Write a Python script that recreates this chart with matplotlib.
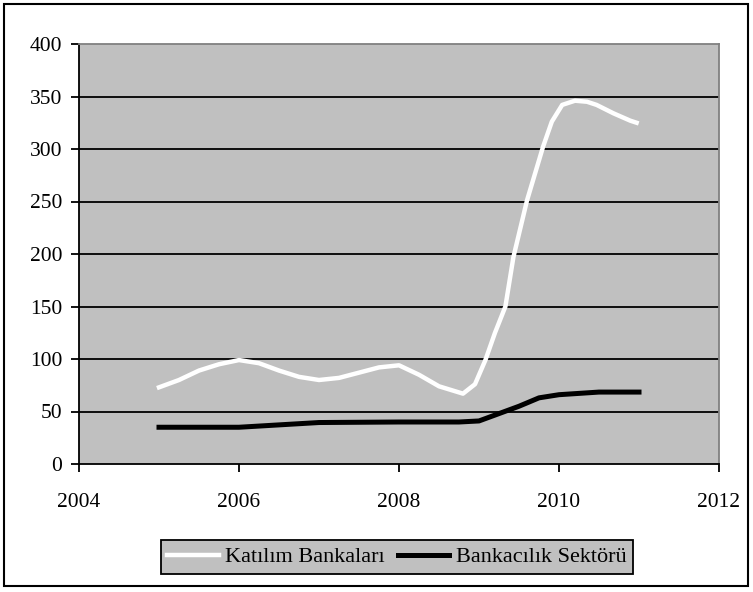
import numpy as np
import matplotlib
matplotlib.use('Agg')
import matplotlib.pyplot as plt
from matplotlib.patches import Rectangle

# values (quarterly-ish points)
katilim_x = [2005.0, 2005.25, 2005.5, 2005.75, 2006.0, 2006.25, 2006.5, 2006.75,
             2007.0, 2007.25, 2007.5, 2007.75, 2008.0, 2008.25, 2008.5, 2008.8,
             2008.95, 2009.08, 2009.2, 2009.33, 2009.43, 2009.6, 2009.8, 2009.91,
             2010.04, 2010.2, 2010.35, 2010.47, 2010.68, 2010.89, 2010.97]
katilim_y = [73, 80, 89, 95, 99, 96, 89, 83,
             80, 82, 87, 92, 94, 85, 74, 67,
             76, 99, 125, 150, 197, 251, 302, 326,
             342, 346, 345, 342, 334, 327, 325]

sektor_x = [2005.0, 2006.0, 2007.0, 2008.0, 2008.75, 2009.0, 2009.25, 2009.5,
            2009.75, 2010.0, 2010.5, 2011.0]
sektor_y = [35, 35, 39.5, 40, 40, 41, 48, 55, 63, 66, 68.5, 68.5]

labels = ['Katılım Bankaları', 'Bankacılık Sektörü']

plt.rcParams['font.family'] = ['Liberation Serif', 'DejaVu Serif']

fig = plt.figure(figsize=(7.53, 5.92), dpi=100)
ax = fig.add_axes([79/753, 128/592, 640/753, 420/592])
gray = '#C0C0C0'
ax.set_facecolor(gray)

for v in range(50, 400, 50):
    ax.axhline(v, color='black', lw=1.3, zorder=1)

ax.plot(katilim_x, katilim_y, color='white', lw=3.2, label=labels[0],
        solid_joinstyle='round', zorder=3)
ax.plot(sektor_x, sektor_y, color='black', lw=3.6, label=labels[1],
        solid_joinstyle='round', zorder=3)

ax.set_xlim(2004, 2012)
ax.set_ylim(0, 400)
ax.set_xticks(range(2004, 2013, 2))
ax.set_yticks(range(0, 401, 50))

for side in ['top', 'right']:
    ax.spines[side].set_color('#808080')
    ax.spines[side].set_linewidth(1.3)
for side in ['left', 'bottom']:
    ax.spines[side].set_color('black')
    ax.spines[side].set_linewidth(1.3)

ax.tick_params(axis='both', direction='out', length=6, width=1.3,
               colors='black', labelsize=15.5)
ax.tick_params(axis='y', pad=6)
ax.tick_params(axis='x', pad=15)

leg = fig.legend(loc='center', bbox_to_anchor=(397/753, 1 - 557/592),
                 ncol=2, frameon=True, fancybox=False, fontsize=16,
                 handlelength=2.3, handletextpad=0.3, columnspacing=0.6,
                 borderpad=0.3)
leg.get_frame().set_facecolor(gray)
leg.get_frame().set_edgecolor('black')
leg.get_frame().set_linewidth(1.3)
leg.get_frame().set_alpha(1)

fig.patches.append(Rectangle((4/753, 6/592), 744/753, 582/592,
                             transform=fig.transFigure, fill=False,
                             edgecolor='black', lw=1.5))

fig.savefig('out.png', dpi=100)
